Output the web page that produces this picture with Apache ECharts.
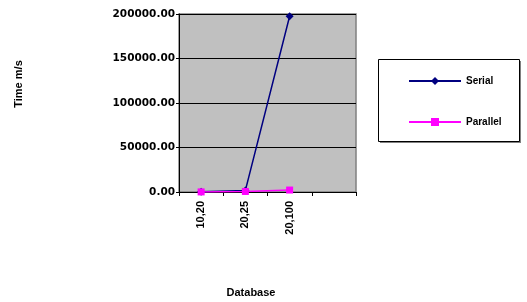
<!DOCTYPE html>
<html><head><meta charset="utf-8">
<script src="https://cdn.jsdelivr.net/npm/echarts@6/dist/echarts.min.js"></script>
<style>html,body{margin:0;padding:0;background:#fff}#c{width:527px;height:302px}</style>
</head><body><div id="c"></div>
<script>
var categories = ['10,20', '20,25', '20,100', ''];
var serial = [300, 1800, 197500, null];
var parallel = [100, 600, 2200, null];
var yTicks = [0, 50000, 100000, 150000, 200000];
var seriesNames = ['Serial', 'Parallel'];

var chart = echarts.init(document.getElementById('c'), null, {renderer: 'canvas'});
chart.setOption({
  animation: false,
  backgroundColor: '#fff',
  grid: {left: 179, right: 171, top: 14, bottom: 110, show: true, backgroundColor: '#C0C0C0', borderColor: '#808080', borderWidth: 1.5},
  xAxis: {
    type: 'category', data: categories, boundaryGap: true,
    axisLine: {lineStyle: {color: '#000', width: 1}},
    axisTick: {show: true, length: 4, lineStyle: {color: '#000'}, alignWithLabel: false},
    axisLabel: {rotate: 90, interval: 0, margin: 9, fontFamily: 'Liberation Sans', fontWeight: 'bold', fontSize: 11, color: '#000'},
    splitLine: {show: false}
  },
  yAxis: {
    type: 'value', min: yTicks[0], max: yTicks[yTicks.length - 1], interval: yTicks[1] - yTicks[0],
    axisLine: {show: true, lineStyle: {color: '#000', width: 1}},
    axisTick: {show: true, length: 3, lineStyle: {color: '#000'}},
    axisLabel: {margin: 4, fontFamily: 'DejaVu Sans', fontWeight: 'bold', fontSize: 10.5, color: '#000', formatter: function (v) { return v.toFixed(2); }},
    splitLine: {show: true, lineStyle: {color: '#000', width: 1}}
  },
  legend: {
    orient: 'vertical', left: 408, top: 74, padding: 0, itemWidth: 52, itemHeight: 10, itemGap: 27,
    textStyle: {fontFamily: 'Liberation Sans', fontWeight: 'bold', fontSize: 10, color: '#000', lineHeight: 14},
    data: seriesNames
  },
  graphic: [
    {type: 'rect', shape: {x: 380, y: 61, width: 141, height: 82}, style: {fill: '#808080'}, z: -2},
    {type: 'rect', shape: {x: 378.5, y: 59.5, width: 141, height: 82}, style: {fill: '#fff', stroke: '#000', lineWidth: 1}, z: -1},
    {type: 'text', x: 19, y: 84, rotation: Math.PI / 2, style: {text: 'Time m/s', fontFamily: 'Liberation Sans', fontWeight: 'bold', fontSize: 11, fill: '#000', textAlign: 'center', textVerticalAlign: 'middle'}},
    {type: 'text', x: 251, y: 293, style: {text: 'Database', fontFamily: 'Liberation Sans', fontWeight: 'bold', fontSize: 11, fill: '#000', textAlign: 'center', textVerticalAlign: 'middle'}}
  ],
  series: [
    {name: seriesNames[0], type: 'line', data: serial, symbol: 'diamond', symbolSize: 8, color: '#000080', lineStyle: {width: 1.5, color: '#000080'}, itemStyle: {color: '#000080'}, z: 3},
    {name: seriesNames[1], type: 'line', data: parallel, symbol: 'rect', symbolSize: 7, color: '#FF00FF', lineStyle: {width: 1.5, color: '#FF00FF'}, itemStyle: {color: '#FF00FF'}, z: 4}
  ]
});
</script></body></html>
